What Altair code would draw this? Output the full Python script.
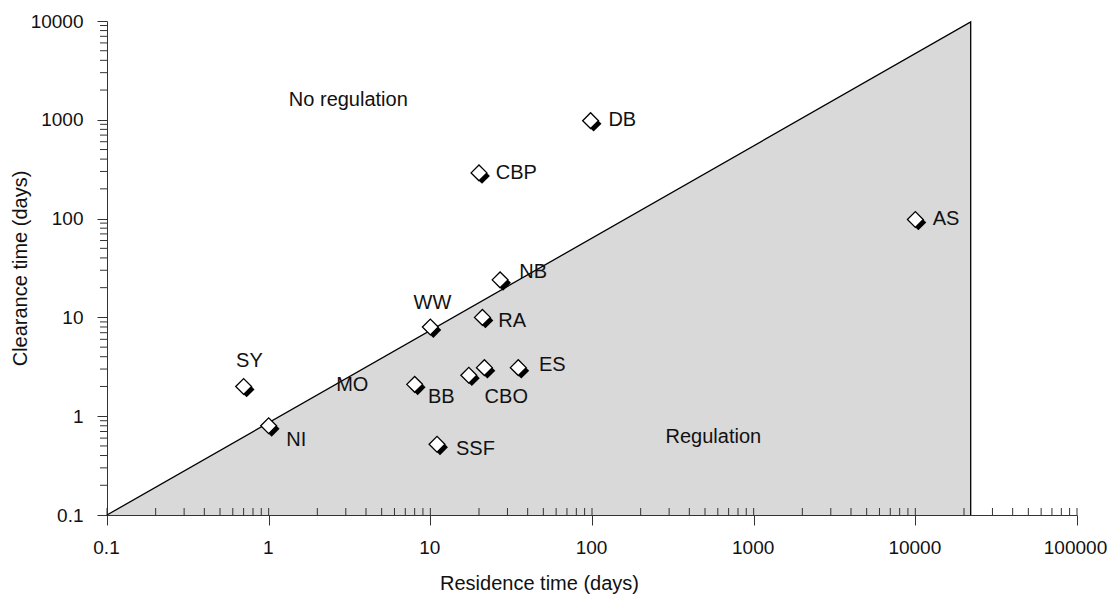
import altair as alt
import pandas as pd

# ---- data ----
marker_name = ["SY", "NI", "BB", "WW", "RA", "CBO", "CBO", "ES", "SSF", "NB", "CBP", "DB", "AS"]
marker_res = [0.7, 1.0, 8.0, 10.0, 21.0, 17.3, 21.6, 35.0, 11.0, 27.0, 20.0, 98.0, 10000.0]
marker_clr = [2.0, 0.8, 2.1, 8.0, 10.0, 2.6, 3.1, 3.1, 0.52, 24.0, 290.0, 980.0, 98.0]

label_text = ["SY", "NI", "MO", "BB", "WW", "RA", "CBO", "ES", "SSF", "NB", "CBP", "DB", "AS",
              "No regulation", "Regulation"]
label_res = [0.76, 1.48, 3.29, 11.7, 10.3, 32.1, 29.5, 56.8, 19.0, 43.3, 34.0, 154.0, 15500.0,
             3.11, 563.0]
label_clr = [3.65, 0.577, 2.08, 1.57, 14.1, 9.29, 1.57, 3.32, 0.467, 29.1, 287.0, 991.0, 98.0,
             1580.0, 0.618]

boundary_res = [0.1, 22000.0, 22000.0]
boundary_clr = [0.1, 9800.0, 0.1]

x_major = [0.1, 1, 10, 100, 1000, 10000, 100000]
y_major = [0.1, 1, 10, 100, 1000, 10000]
x_minor = [m * d for d in [0.1, 1, 10, 100, 1000, 10000] for m in range(2, 10)]
y_minor = [m * d for d in [0.1, 1, 10, 100, 1000] for m in range(2, 10)]

# ---- tables ----
markers = pd.DataFrame({"name": marker_name, "res": marker_res, "clr": marker_clr})
labels = pd.DataFrame({"text": label_text, "res": label_res, "clr": label_clr})
boundary = pd.DataFrame({"res": boundary_res, "clr": boundary_clr, "order": list(range(len(boundary_res)))})
region = pd.DataFrame({"res": boundary_res[:2], "clr": boundary_clr[:2], "base": [0.1, 0.1]})
xticks = pd.DataFrame({"res": x_major + x_minor})
yticks = pd.DataFrame({"clr": y_minor})

FONT = "Liberation Sans"
FS = 19
TFS = 20
AXC = "#333333"
W, H = 970, 494

xscale = alt.Scale(type="log", domain=[0.1, 100000], nice=False)
yscale = alt.Scale(type="log", domain=[0.1, 10000], nice=False)

xaxis = alt.Axis(values=x_major, format=".1~f", grid=False, tickSize=10, tickColor=AXC,
                 domainColor=AXC, labelFont=FONT, labelFontSize=FS, labelColor="#111111",
                 labelPadding=13,
                 labelOffset={"condition": {"test": "datum.value >= 100000", "value": -2},
                              "value": -1},
                 title="Residence time (days)", titleFont=FONT,
                 titleFontSize=TFS, titleFontWeight="normal", titleColor="#111111",
                 titleX=432, titleY=68, titleBaseline="middle", titleAlign="center",
                 labelFlush=False, labelOverlap=False)
yaxis = alt.Axis(values=y_major, format=".1~f", grid=False, tickSize=10, tickColor=AXC,
                 domainColor=AXC, labelFont=FONT, labelFontSize=FS, labelColor="#111111",
                 labelPadding=14, title="Clearance time (days)", titleFont=FONT,
                 titleFontSize=TFS, titleFontWeight="normal", titleColor="#111111",
                 titleX=-87, titleY=247, titleBaseline="middle", titleAlign="center",
                 titleAngle=270, labelFlush=False, labelOverlap=False)


def X(field):
    return alt.X(field, type="quantitative", scale=xscale, axis=xaxis)


def Y(field):
    return alt.Y(field, type="quantitative", scale=yscale, axis=yaxis)


area = alt.Chart(region).mark_area(color="#d9d9d9", opacity=1).encode(
    x=X("res"), y=Y("clr"), y2="base")

xtick_in = alt.Chart(xticks).mark_rule(color=AXC, strokeWidth=1).encode(
    x=X("res"), y=alt.value(H - 7), y2=alt.value(H))

ytick_out = alt.Chart(yticks).mark_rule(color=AXC, strokeWidth=1).encode(
    y=Y("clr"), x=alt.value(-7), x2=alt.value(0))

line = alt.Chart(boundary).mark_line(color="black", strokeWidth=1.3).encode(
    x=X("res"), y=Y("clr"), order="order")

shadow = alt.Chart(markers).mark_point(shape="diamond", filled=True, color="black",
                                       size=250, opacity=1, xOffset=3, yOffset=3).encode(
    x=X("res"), y=Y("clr"))

diamond = alt.Chart(markers).mark_point(shape="diamond", filled=True, fill="white",
                                        stroke="black", strokeWidth=1.3, size=250,
                                        opacity=1).encode(
    x=X("res"), y=Y("clr"))

text = alt.Chart(labels).mark_text(font=FONT, fontSize=TFS, color="#111111",
                                   align="center", baseline="middle").encode(
    x=X("res"), y=Y("clr"), text="text")

chart = alt.layer(area, xtick_in, ytick_out, line, shadow, diamond, text).properties(
    width=W, height=H,
    autosize=alt.AutoSizeParams(type="none"),
    padding={"left": 99, "top": 13, "right": 30, "bottom": 80},
).configure_view(stroke=None)

chart.save("out.html", embed_options={"renderer": "svg", "actions": False})
